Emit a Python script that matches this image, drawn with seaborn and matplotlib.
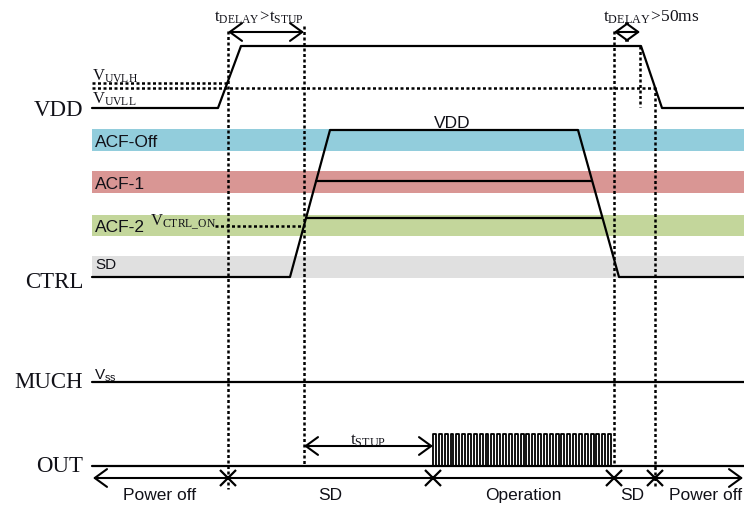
import numpy as np
import seaborn as sns
import matplotlib.pyplot as plt

# --- data (time axis in diagram units, levels in diagram units) ---
vdd_t = [92, 218, 241, 641, 662, 744]
vdd_v = [109, 109, 47, 47, 109, 109]
ctrl_t = [92, 290, 330, 578, 619, 744]
ctrl_v = [278, 278, 131, 131, 278, 278]
acf1_t = [316, 592]
acf2_t = [306, 602]
much_t = [92, 744]
out_t = [92, 744]
n_pulses = 31
pulse_t = [433, 614]

band_names = ['ACF-Off', 'ACF-1', 'ACF-2', 'SD']
band_colors = ['#92cddc', '#d99694', '#c3d69b', '#e0e0e0']

phase_names = ['Power off', 'SD', 'Operation', 'SD', 'Power off']
phase_bounds = [92, 228, 433, 614, 655, 744]

# --- layout ---
band_top = [130, 172, 216, 257]
band_bot = [152, 194, 237, 279]
lvl_acf1, lvl_acf2 = 182, 219
lvl_much, lvl_out, lvl_pulse = 383, 467, 435
lvl_phase = 479

sns.set_theme(style='white')
serif = 'Liberation Serif'
sans = 'Liberation Sans'
ink = '#111118'

fig = plt.figure(figsize=(7.44, 5.06), dpi=100)
ax = fig.add_axes([0, 0, 1, 1])
ax.set_xlim(0, 744)
ax.set_ylim(506, 0)
ax.axis('off')

# colour bands
for name, col, y0, y1 in zip(band_names, band_colors, band_top, band_bot):
    ax.fill_between([92, 744], y0, y1, color=col, lw=0, zorder=0)
    if name == 'SD':
        ax.text(95, y0 + 1, name, family=sans, fontsize=11, color=ink, va='top')
    else:
        ax.text(95, (y0 + y1) / 2 + 1, name, family=sans, fontsize=12.5, color=ink, va='center')

lw = 1.6
kw = dict(color='black', lw=lw, sort=False, estimator=None, legend=False, ax=ax)
sns.lineplot(x=vdd_t, y=vdd_v, **kw)
sns.lineplot(x=ctrl_t, y=ctrl_v, **kw)
sns.lineplot(x=acf1_t, y=[lvl_acf1] * 2, **kw)
sns.lineplot(x=acf2_t, y=[lvl_acf2] * 2, **kw)
sns.lineplot(x=much_t, y=[lvl_much] * 2, **kw)
sns.lineplot(x=out_t, y=[lvl_out] * 2, **kw)

# square wave on OUT
edges = np.linspace(pulse_t[0], pulse_t[1], 2 * n_pulses + 1)
wx, wy = [], []
for i in range(2 * n_pulses):
    lv = lvl_pulse if i % 2 == 0 else lvl_out
    wx += [edges[i], edges[i + 1]]
    wy += [lv, lv]
wx = [pulse_t[0]] + wx + [pulse_t[1]]
wy = [lvl_out] + wy + [lvl_out]
ax.plot(wx, wy, color='black', lw=1.3)

# dotted guides
dot = dict(color='black', lw=1.8, ls=(0, (1.2, 1.0)))
ax.plot([228, 228], [32, 490], **dot)
ax.plot([304, 304], [27, 467], **dot)
ax.plot([614, 614], [32, 467], **dot)
ax.plot([655, 655], [88, 488], **dot)
ax.plot([640, 640], [47, 108], **dot)
ax.plot([92, 228], [84, 84], **dot)
ax.plot([92, 655], [89, 89], **dot)
ax.plot([215, 304], [227, 227], **dot)

# arrows
arr = dict(arrowstyle='<->,head_length=0.55,head_width=0.4', color='black', lw=1.5,
           shrinkA=0, shrinkB=0, mutation_scale=16)
ax.annotate('', xy=(228, 33), xytext=(304, 33), arrowprops=arr)
ax.annotate('', xy=(614, 33), xytext=(640, 33), arrowprops=arr)
ax.annotate('', xy=(304, 447), xytext=(433, 447), arrowprops=arr)
ax.annotate('', xy=(93, lvl_phase), xytext=(743, lvl_phase), arrowprops=arr)
ax.plot(phase_bounds[1:-1], [lvl_phase] * 4, ls='none', marker='x', ms=12, mew=1.6, color='black')

# phase labels
for i, name in enumerate(phase_names):
    cx = (phase_bounds[i] + phase_bounds[i + 1]) / 2
    if i == 3:
        cx += -2
    if i == 4:
        cx += 6
    ax.text(cx, 496, name, family=sans, fontsize=12.5, color=ink, ha='center', va='center')

# signal names
for name, y in [('VDD', 110), ('CTRL', 283), ('MUCH', 382), ('OUT', 467)]:
    ax.text(83, y, name, family=serif, fontsize=16.5, color=ink, ha='right', va='center')

# annotations with subscripts
ax.text(214, 22, r'$\mathregular{t_{DELAY}\!>\!t_{STUP}}$', family=serif, fontsize=12, color=ink, va='baseline')
ax.text(603, 22, r'$\mathregular{t_{DELAY}\!>\!50ms}$', family=serif, fontsize=12.5, color=ink, va='baseline')
ax.text(92, 81, r'$\mathregular{V_{UVLH}}$', family=serif, fontsize=12, color=ink, va='baseline')
ax.text(92, 104, r'$\mathregular{V_{UVLL}}$', family=serif, fontsize=12, color=ink, va='baseline')
ax.text(150, 226, r'$\mathregular{V_{CTRL\_ON}}$', family=serif, fontsize=12, color=ink, va='baseline')
ax.text(350, 445, r'$\mathregular{t_{STUP}}$', family=serif, fontsize=12.5, color=ink, va='baseline')
ax.text(94, 380, r'$\mathregular{V_{ss}}$', family=sans, fontsize=11, color=ink, va='baseline')
ax.text(452, 123, 'VDD', family=sans, fontsize=12.5, color=ink, ha='center', va='center')

fig.savefig('out.png', dpi=100)
